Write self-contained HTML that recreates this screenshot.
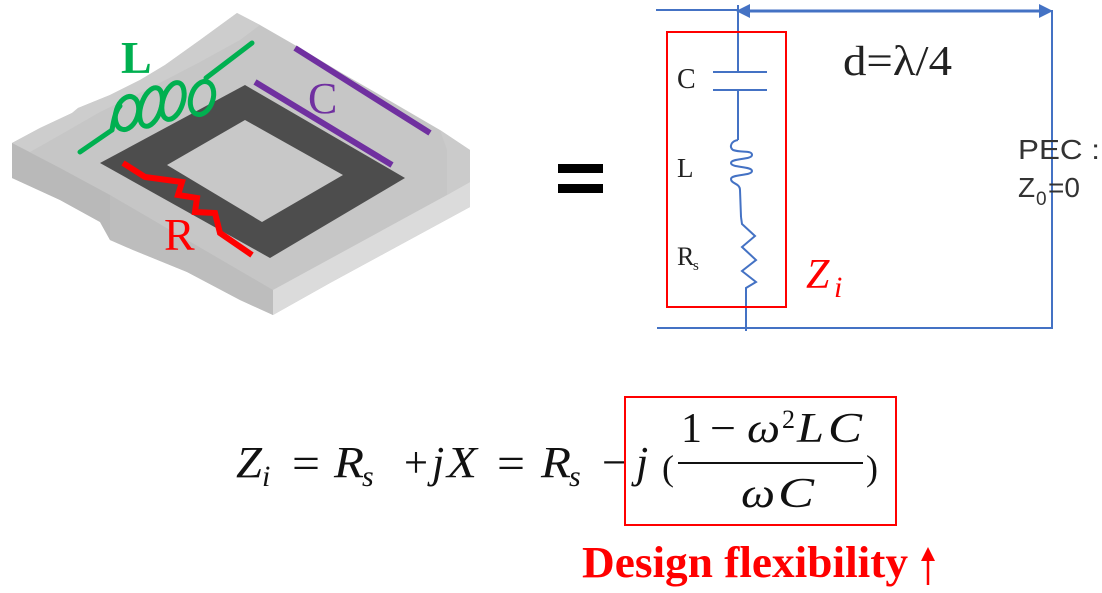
<!DOCTYPE html>
<html>
<head>
<meta charset="utf-8">
<style>
  html, body { margin: 0; padding: 0; background: #ffffff; }
  body { width: 1102px; height: 593px; overflow: hidden; }
  svg { display: block; }
</style>
</head>
<body>
<svg width="1102" height="593" viewBox="0 0 1102 593" xmlns="http://www.w3.org/2000/svg">
  <rect x="0" y="0" width="1102" height="593" fill="#ffffff"/>

  <!-- ===== Left 3D slab ===== -->
  <polygon fill="#c6c6c6" points="12,143 40,128 72,113 78,108 110,95 140,80 165,65 200,40 237,13 260,25 300,48 340,72 380,95 440,130 470,150 470,207 400,245 330,283 273,315 240,300 187,272 133,250 110,240 100,222 60,200 12,178"/>
  <!-- lighter upper-left strip of top surface -->
  <polygon fill="#cdcdcd" points="12,143 40,128 72,113 78,108 110,95 140,80 165,65 200,40 237,13 260,25 240,40 200,62 150,88 100,112 60,135 30,152"/>
  <!-- left front face -->
  <polygon fill="#b9b9b9" points="12,143 60,168 110,195 110,240 100,222 60,200 12,178"/>
  <!-- middle front face -->
  <polygon fill="#bdbdbd" points="110,195 273,290 273,315 240,300 187,272 133,250 110,240"/>
  <!-- bottom-right light face -->
  <polygon fill="#dbdbdb" points="273,290 447,195 470,182 470,207 400,245 330,283 273,315"/>
  <!-- small upper right block -->
  <polygon fill="#cbcbcb" points="440,130 470,150 470,182 447,195 447,150"/>

  <!-- dark ring -->
  <polygon fill="#4d4d4d" points="245,85 405,178 270,258 100,163"/>
  <polygon fill="#c8c8c8" points="245,120 343,175 262,222 167,165"/>

  <!-- Green inductor -->
  <g stroke="#00b050" stroke-width="5" fill="none" stroke-linecap="round">
    <line x1="80" y1="152" x2="112" y2="130"/>
    <line x1="206" y1="78" x2="252" y2="43"/>
    <path d="M112,130 C114,118 116,110 120,106"/>
    <ellipse cx="127" cy="113" rx="11" ry="17" transform="rotate(18 127 113)"/>
    <ellipse cx="151" cy="107" rx="10" ry="20" transform="rotate(18 151 107)"/>
    <ellipse cx="173" cy="101" rx="10" ry="19" transform="rotate(18 173 101)"/>
    <ellipse cx="202" cy="98" rx="11" ry="17" transform="rotate(18 202 98)"/>
  </g>
  <text x="121" y="73" font-family="Liberation Serif, serif" font-weight="bold" font-size="46" fill="#00b050">L</text>

  <!-- Purple capacitor -->
  <g stroke="#7030a0" stroke-width="6" stroke-linecap="butt">
    <line x1="255" y1="82" x2="392" y2="165"/>
    <line x1="295" y1="48" x2="430" y2="133"/>
  </g>
  <text x="308" y="113" font-family="Liberation Serif, serif" font-size="44" fill="#7030a0">C</text>

  <!-- Red resistor -->
  <polyline fill="none" stroke="#ff0000" stroke-width="6" stroke-linejoin="miter"
    points="123,163 145,177 182,182 178,195 197,198 195,212 215,213 220,233 252,255"/>
  <text x="164" y="250" font-family="Liberation Serif, serif" font-size="46" fill="#ff0000">R</text>

  <!-- ===== Equals sign ===== -->
  <rect x="558" y="164" width="45" height="9" fill="#000"/>
  <rect x="558" y="184" width="45" height="9" fill="#000"/>

  <!-- ===== Circuit ===== -->
  <g stroke="#4472c4" fill="none">
    <line x1="656" y1="10" x2="737" y2="10" stroke-width="2"/>
    <line x1="745" y1="11" x2="1044" y2="11" stroke-width="3"/>
    <line x1="1052" y1="10" x2="1052" y2="329" stroke-width="2"/>
    <line x1="657" y1="328" x2="1052" y2="328" stroke-width="2"/>
    <line x1="738" y1="5" x2="738" y2="72" stroke-width="2"/>
    <line x1="713" y1="72" x2="767" y2="72" stroke-width="2"/>
    <line x1="713" y1="90" x2="767" y2="90" stroke-width="2"/>
    <line x1="738" y1="90" x2="738" y2="140" stroke-width="2"/>
    <path stroke-width="2" d="M738,140 C731,141 729,147 733,150 C742,153 752,150 752,155 C752,160 731,158 731,163 C731,168 752,166 752,171 C752,176 731,174 731,179 C731,184 740,183 740,190 L741,217"/>
    <polyline stroke-width="2" points="741,217 742,224 755,236 742,247 756,260 742,271 756,282 746,288 746,331"/>
  </g>
  <polygon fill="#4472c4" points="736,11 750,4 750,18"/>
  <polygon fill="#4472c4" points="1053,11 1039,4 1039,18"/>

  <rect x="667" y="32" width="119" height="275" fill="none" stroke="#ff0000" stroke-width="2"/>

  <g font-family="Liberation Serif, serif" fill="#222">
    <text x="677" y="88" font-size="28">C</text>
    <text x="677" y="177" font-size="27">L</text>
    <text x="677" y="265" font-size="26">R</text>
    <text x="693" y="270" font-size="15">s</text>
  </g>

  <text x="806" y="288" font-family="Liberation Serif, serif" font-style="italic" font-size="42" fill="#ff0000">Z</text>
  <text x="834" y="297" font-family="Liberation Serif, serif" font-style="italic" font-size="30" fill="#ff0000">i</text>

  <text x="843" y="75" font-family="Liberation Serif, serif" font-size="42" fill="#222" textLength="109" lengthAdjust="spacingAndGlyphs">d=λ/4</text>

  <text x="1018" y="159" font-family="Liberation Sans, sans-serif" font-size="28" fill="#333" textLength="82" lengthAdjust="spacingAndGlyphs">PEC :</text>
  <text x="1018" y="197" font-family="Liberation Sans, sans-serif" font-size="28" fill="#333">Z</text>
  <text x="1036" y="205" font-family="Liberation Sans, sans-serif" font-size="19" fill="#333">0</text>
  <text x="1048" y="197" font-family="Liberation Sans, sans-serif" font-size="28" fill="#333">=0</text>

  <!-- ===== Equation ===== -->
  <g font-family="Liberation Serif, serif" fill="#111">
    <text x="236" y="477" font-size="44" font-style="italic" textLength="26" lengthAdjust="spacingAndGlyphs">Z</text>
    <text x="262" y="486" font-size="30" font-style="italic">i</text>
    <text x="292" y="478" font-size="44" textLength="28" lengthAdjust="spacingAndGlyphs">=</text>
    <text x="334" y="477" font-size="44" font-style="italic" textLength="30" lengthAdjust="spacingAndGlyphs">R</text>
    <text x="362" y="486" font-size="30" font-style="italic">s</text>
    <text x="404" y="477" font-size="44" textLength="24" lengthAdjust="spacingAndGlyphs">+</text>
    <text x="432" y="477" font-size="44" font-style="italic">j</text>
    <text x="447" y="477" font-size="44" font-style="italic" textLength="30" lengthAdjust="spacingAndGlyphs">X</text>
    <text x="497" y="478" font-size="44" textLength="28" lengthAdjust="spacingAndGlyphs">=</text>
    <text x="541" y="477" font-size="44" font-style="italic" textLength="30" lengthAdjust="spacingAndGlyphs">R</text>
    <text x="569" y="486" font-size="30" font-style="italic">s</text>
    <text x="602" y="477" font-size="44" textLength="26" lengthAdjust="spacingAndGlyphs">−</text>
    <text x="636" y="477" font-size="44" font-style="italic">j</text>
    <text x="662" y="480" font-size="36">(</text>
    <!-- numerator -->
    <text x="681" y="442" font-size="42">1</text>
    <text x="710" y="442" font-size="42" textLength="26" lengthAdjust="spacingAndGlyphs">−</text>
    <text x="747" y="442" font-size="42" font-style="italic" textLength="33" lengthAdjust="spacingAndGlyphs">ω</text>
    <text x="782" y="428" font-size="26">2</text>
    <text x="797" y="442" font-size="42" font-style="italic" textLength="27" lengthAdjust="spacingAndGlyphs">L</text>
    <text x="828" y="442" font-size="42" font-style="italic" textLength="34" lengthAdjust="spacingAndGlyphs">C</text>
    <!-- denominator -->
    <text x="741" y="507" font-size="42" font-style="italic" textLength="34" lengthAdjust="spacingAndGlyphs">ω</text>
    <text x="778" y="507" font-size="42" font-style="italic" textLength="36" lengthAdjust="spacingAndGlyphs">C</text>
    <text x="866" y="480" font-size="36">)</text>
  </g>
  <line x1="678" y1="463" x2="863" y2="463" stroke="#111" stroke-width="2"/>

  <rect x="625" y="397" width="271" height="128" fill="none" stroke="#ff0000" stroke-width="2"/>

  <text x="582" y="577" font-family="Liberation Serif, serif" font-weight="bold" font-size="44" fill="#ff0000" textLength="326" lengthAdjust="spacingAndGlyphs">Design flexibility</text>
  <!-- up arrow -->
  <line x1="928" y1="556" x2="928" y2="585" stroke="#ff0000" stroke-width="2.5"/>
  <polygon fill="#ff0000" points="928,547 921,561 935,561"/>
</svg>
</body>
</html>
